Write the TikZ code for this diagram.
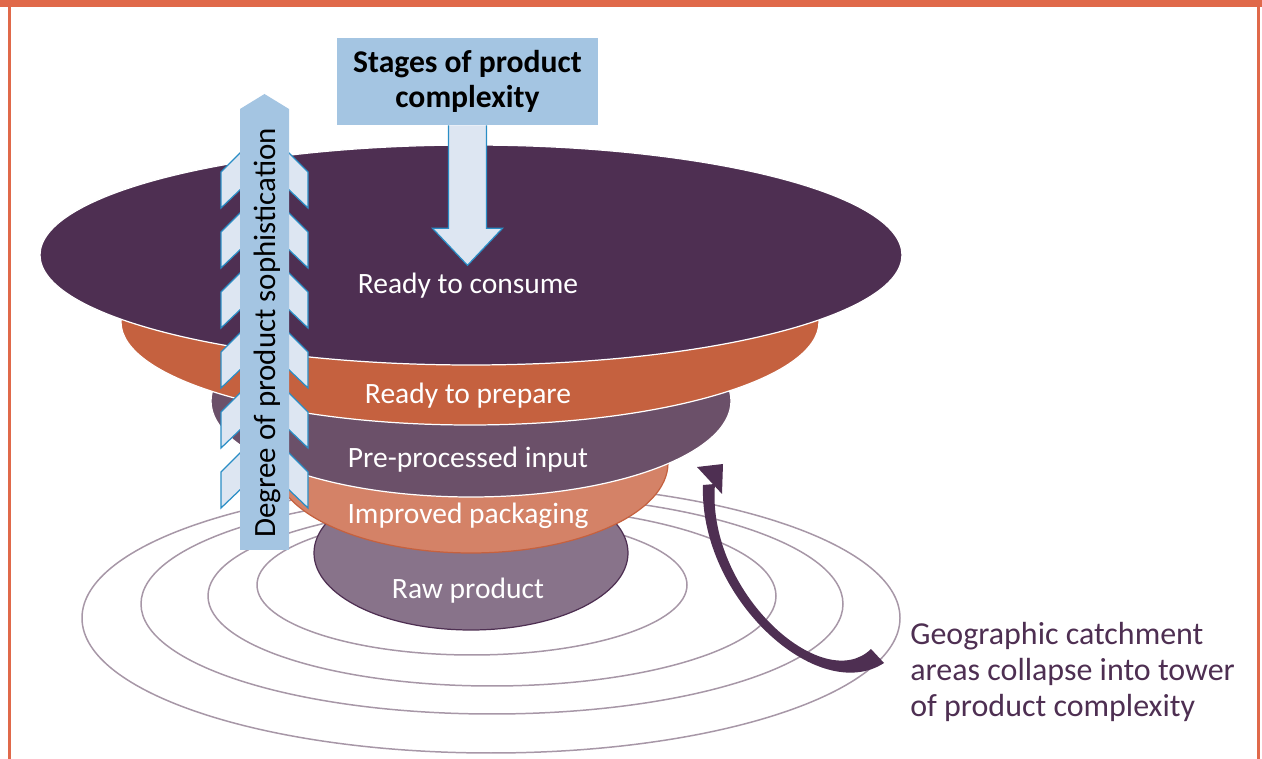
\documentclass[tikz,border=0pt]{standalone}
\usepackage{fontspec}
\setmainfont{Carlito}
\usetikzlibrary{calc}

\definecolor{plumdark}{HTML}{4E2F52}
\definecolor{rust}{HTML}{C5613F}
\definecolor{mauve}{HTML}{6B5069}
\definecolor{salmon}{HTML}{D48267}
\definecolor{rawgrey}{HTML}{88738A}
\definecolor{ringgrey}{HTML}{A797A7}
\definecolor{frameorange}{HTML}{E0694A}
\definecolor{steel}{HTML}{A4C5E2}
\definecolor{paleblue}{HTML}{DDE6F2}
\definecolor{edgeblue}{HTML}{2A8DC5}

\tikzset{
  tier/.style={draw=white, line width=0.7pt},
  ring/.style={draw=ringgrey, line width=0.85pt},
  blockarrow/.style={fill=paleblue, draw=edgeblue, line width=0.7pt, line join=miter}
}

\begin{document}
\begin{tikzpicture}[x=0.02cm,y=-0.02cm]

  % --- styles ---
  \tikzset{
    tierlabel/.style={text=white, inner sep=0pt, font=\fontsize{16.8}{20}\selectfont},
    framefill/.style={fill=frameorange},
    frameline/.style={draw=frameorange, line width=1.7pt},
  }

  \useasboundingbox (0,0) rectangle (1262,759);

  % --- frame ---
  \fill[framefill] (0,0) rectangle (1262,7);
  \draw[frameline] (9.5,7) -- (9.5,759);
  \draw[frameline] (1258.5,7) -- (1258.5,759);

  % =========================
  %  CATCHMENT RINGS
  % =========================

  \draw[ring] (491,618) ellipse [x radius=409, y radius=135];
  \draw[ring] (492,604) ellipse [x radius=351, y radius=110];
  \draw[ring] (492,596) ellipse [x radius=284, y radius=90];
  \draw[ring] (472,585) ellipse [x radius=215, y radius=70];

  % =========================
  %  TOWER, bottom tier first
  % =========================

  \filldraw[fill=rawgrey, draw=plumdark, line width=0.7pt]
    (471,553) ellipse [x radius=157, y radius=77];
  \filldraw[fill=salmon, draw=rust, line width=0.7pt]
    (471,463) ellipse [x radius=197, y radius=90];
  \filldraw[tier, fill=mauve] (471,401) ellipse [x radius=260, y radius=96];
  \filldraw[tier, fill=rust] (470,322) ellipse [x radius=349, y radius=103];
  \filldraw[tier, fill=plumdark] (471,255) ellipse [x radius=431, y radius=110];

  \node[tierlabel] (consume) at (468,286) {Ready to consume};
  \node[tierlabel] (prepare) at (468,396) {Ready to prepare};
  \node[tierlabel] (preproc) at (468,460) {Pre-processed input};
  \node[tierlabel] (packaging) at (468,516) {Improved packaging};
  \node[tierlabel] (raw) at (468,591) {Raw product};

  % =========================
  %  SOPHISTICATION ARROW
  % =========================

  \foreach \y in {153,213,...,453} {
    \draw[blockarrow] (221,\y+19) -- (243,\y-3) -- (243,\y+34) -- (221,\y+55) -- cycle;
    \draw[blockarrow] (308,\y+19) -- (286,\y-3) -- (286,\y+34) -- (308,\y+55) -- cycle;
  }
  \fill[steel] (240,550) -- (240,109) -- (264.5,94) -- (289,109) -- (289,550) -- cycle;
  \node[rotate=90, inner sep=0pt, font=\fontsize{17.6}{20}\selectfont] (sophist)
    at (267,333) {Degree of product sophistication};

  % =========================
  %  STAGES BOX + DOWN ARROW
  % =========================

  \node[fill=steel, minimum width=5.22cm, minimum height=1.74cm, inner sep=0pt,
        align=center, font=\bfseries\fontsize{18}{20}\selectfont] (stages)
    at (467.5,81.5) {Stages of product\\complexity};
  \draw[blockarrow]
    ($(stages.south)+(-19,0)$) -- ($(stages.south)+(-19,103)$)
    -- ($(stages.south)+(-35,103)$) -- ($(stages.south)+(0,140)$)
    -- ($(stages.south)+(35,103)$) -- ($(stages.south)+(19,103)$)
    -- ($(stages.south)+(19,0)$);

  % =========================
  %  COLLAPSE ARROW + CAPTION
  % =========================

  % tapered shaft: outer edge out to the tail, inner edge back to the head
  \fill[plumdark] (703,485) .. controls (699,598) and (818,706) .. (884,663)
    -- (871,649) .. controls (823,696) and (706,592) .. (715,484) -- cycle;
  \fill[plumdark] (697,467) -- (723,464) -- (722,494) -- cycle;

  \node[anchor=north west, align=left, inner sep=0pt, text=plumdark,
        font=\fontsize{18.2}{20.4}\selectfont] (caption) at (910,622)
    {Geographic catchment\\areas collapse into tower\\of product complexity};

\end{tikzpicture}
\end{document}
